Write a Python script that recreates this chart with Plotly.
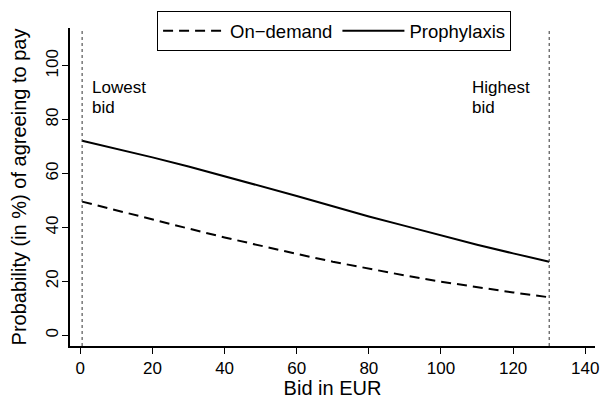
import plotly.graph_objects as go

bid = [0.5, 10, 20, 30, 40, 50, 60, 70, 80, 90, 100, 110, 120, 130]
on_demand = [49.6, 46.3, 42.9, 39.6, 36.3, 33.2, 30.2, 27.3, 24.7, 22.2, 19.9, 17.8, 15.9, 14.1]
prophylaxis = [72.2, 69.3, 66.0, 62.6, 59.0, 55.4, 51.7, 47.9, 44.1, 40.6, 37.0, 33.6, 30.4, 27.3]
bid_limits = [0.5, 130]
x_ticks = [0, 20, 40, 60, 80, 100, 120, 140]
y_ticks = [0, 20, 40, 60, 80, 100]

FONT = "Liberation Sans, Arial, Helvetica, sans-serif"
FS = 17

fig = go.Figure()
fig.add_trace(go.Scatter(x=bid, y=on_demand, mode="lines", name="On\u2212demand",
                         line=dict(color="black", width=2, dash="10px,6px")))
fig.add_trace(go.Scatter(x=bid, y=prophylaxis, mode="lines", name="Prophylaxis",
                         line=dict(color="black", width=2)))

for xv in bid_limits:
    fig.add_shape(type="line", x0=xv, x1=xv, y0=0, y1=1, xref="x", yref="paper",
                  line=dict(color="#333333", width=1, dash="dot"))

labels = [(2.7, "Lowest", "bid"), (108, "Highest", "bid")]
for xv, l1, l2 in labels:
    fig.add_annotation(x=xv, y=92.0, text=l1, showarrow=False, xanchor="left",
                       yanchor="middle", align="left", font=dict(family=FONT, size=FS, color="black"))
    fig.add_annotation(x=xv, y=84.4, text=l2, showarrow=False, xanchor="left",
                       yanchor="middle", align="left", font=dict(family=FONT, size=FS, color="black"))

fig.update_layout(
    width=601, height=391,
    margin=dict(l=62, r=14, t=20, b=53, autoexpand=False),
    paper_bgcolor="white", plot_bgcolor="white",
    font=dict(family=FONT, size=FS, color="black"),
    legend=dict(orientation="h", x=0.503, xanchor="center", y=1.053, yanchor="top",
                bordercolor="black", borderwidth=1, bgcolor="white",
                font=dict(family=FONT, size=18.5), itemwidth=62),
    showlegend=True,
)
fig.update_xaxes(range=[-2.86, 142.7], tickvals=x_ticks, ticks="outside", ticklen=6,
                 tickcolor="black", showline=True, linecolor="black", linewidth=1.5,
                 showgrid=False, zeroline=False, automargin=False,
                 title=dict(text="Bid in EUR", standoff=6),
                 tickfont=dict(size=FS))
fig.update_yaxes(range=[-3.97, 114], tickvals=y_ticks, ticks="outside", ticklen=6,
                 tickcolor="black", showline=True, linecolor="black", linewidth=1.5,
                 showgrid=False, zeroline=False, tickangle=-90, automargin=False,
                 ticklabelstandoff=-3,
                 title=dict(text="Probability (in %) of agreeing to pay", standoff=14),
                 tickfont=dict(size=FS))

fig.write_html("out.html")
